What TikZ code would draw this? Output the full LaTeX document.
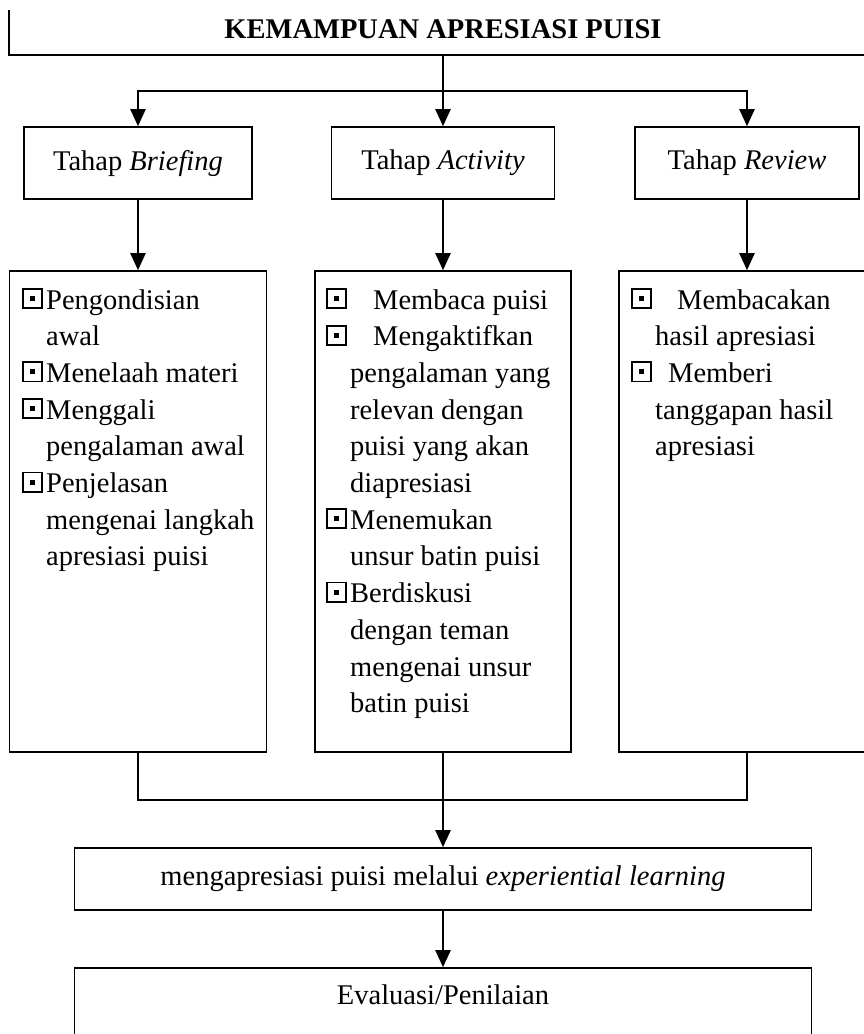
\documentclass[tikz,border=0pt]{standalone}
\usepackage{fontspec}
\setmainfont{Liberation Serif}
\usetikzlibrary{arrows.meta}
\newcommand{\sqb}{\makebox[21pt][l]{%
\rlap{\rule{21pt}{1.8pt}}%
\rlap{\raisebox{19.2pt}{\rule{21pt}{1.8pt}}}%
\rlap{\rule{1.8pt}{21pt}}%
\rlap{\hspace{19.2pt}\rule{1.8pt}{21pt}}%
\hspace{8pt}\raisebox{8pt}{\rule{5pt}{5pt}}}}
\newcommand{\bul}[1]{\llap{\sqb\hspace{#1pt}}}
\begin{document}
\begin{tikzpicture}[x=1pt,y=-1pt,
  every node/.style={font=\fontsize{28.5}{36.7}\selectfont, inner sep=0pt},
  box/.style={draw, line width=1.6pt},
  conn/.style={line width=2.2pt},
  arr/.style={conn, -{Triangle[length=17pt,width=15pt]}},
  ln/.style={anchor=base west}]
\useasboundingbox (0,0) rectangle (864,1034);
\clip (0,0) rectangle (864,1034);
% title box (cropped)
\draw[line width=1.6pt] (9,10) |- (880,55);
\node (title) at (443,29) {\textbf{KEMAMPUAN APRESIASI PUISI}};
\coordinate (tb) at (443,55);
\coordinate (j) at (443,91);
% stage boxes
\node[box, minimum width=228pt, minimum height=72pt] (s1) at (138,163) {Tahap \textit{Briefing}};
\node[box, minimum width=223pt, minimum height=72pt] (s2) at (443,163) {Tahap \textit{Activity}};
\node[box, minimum width=224pt, minimum height=72pt] (s3) at (747,163) {Tahap \textit{Review}};
% content boxes
\node[box, minimum width=257pt, minimum height=481pt] (c1) at (138,511.5) {};
\node[box, minimum width=256pt, minimum height=481pt] (c2) at (443,511.5) {};
\node[box, minimum width=256pt, minimum height=481pt] (c3) at (747,511.5) {};
% lower boxes
\node[box, minimum width=737pt, minimum height=62pt] (e1) at (443,879) {mengapresiasi puisi melalui \textit{experiential learning}};
\node[box, minimum width=737pt, minimum height=120pt] (e2) at (443,1028) {};
\node (evtext) at (443,995) {Evaluasi/Penilaian};
% content text
\foreach \t [count=\i] in {{\bul{3}Pengondisian},awal,{\bul{3}Menelaah materi},{\bul{3}Menggali},pengalaman awal,{\bul{3}Penjelasan},mengenai langkah,apresiasi puisi}
  \node[ln] (brf\i) at (46,{309+36.7*(\i-1)}) {\t};
\foreach \x/\t [count=\i] in {373/{\bul{26}Membaca puisi},373/{\bul{26}Mengaktifkan},350/pengalaman yang,350/relevan dengan,350/puisi yang akan,350/diapresiasi,350/{\bul{3}Menemukan},350/unsur batin puisi,350/{\bul{3}Berdiskusi},350/dengan teman,350/mengenai unsur,350/batin puisi}
  \node[ln] (act\i) at (\x,{309+36.7*(\i-1)}) {\t};
\foreach \x/\t [count=\i] in {677/{\bul{25}Membacakan},655/hasil apresiasi,668/{\bul{16}Memberi},655/tanggapan hasil,655/apresiasi}
  \node[ln] (rev\i) at (\x,{309+36.7*(\i-1)}) {\t};
% connectors
\draw[conn] (tb) -- (j);
\draw[arr] (j) -| (s1.north);
\draw[arr] (j) -- (s2.north);
\draw[arr] (j) -| (s3.north);
\draw[arr] (s1.south) -- (c1.north);
\draw[arr] (s2.south) -- (c2.north);
\draw[arr] (s3.south) -- (c3.north);
\coordinate (m) at (443,800);
\draw[conn] (c1.south) |- (m);
\draw[conn] (c3.south) |- (m);
\draw[arr] (c2.south) -- (e1.north);
\draw[arr] (e1.south) -- (e2.north);
\end{tikzpicture}
\end{document}
